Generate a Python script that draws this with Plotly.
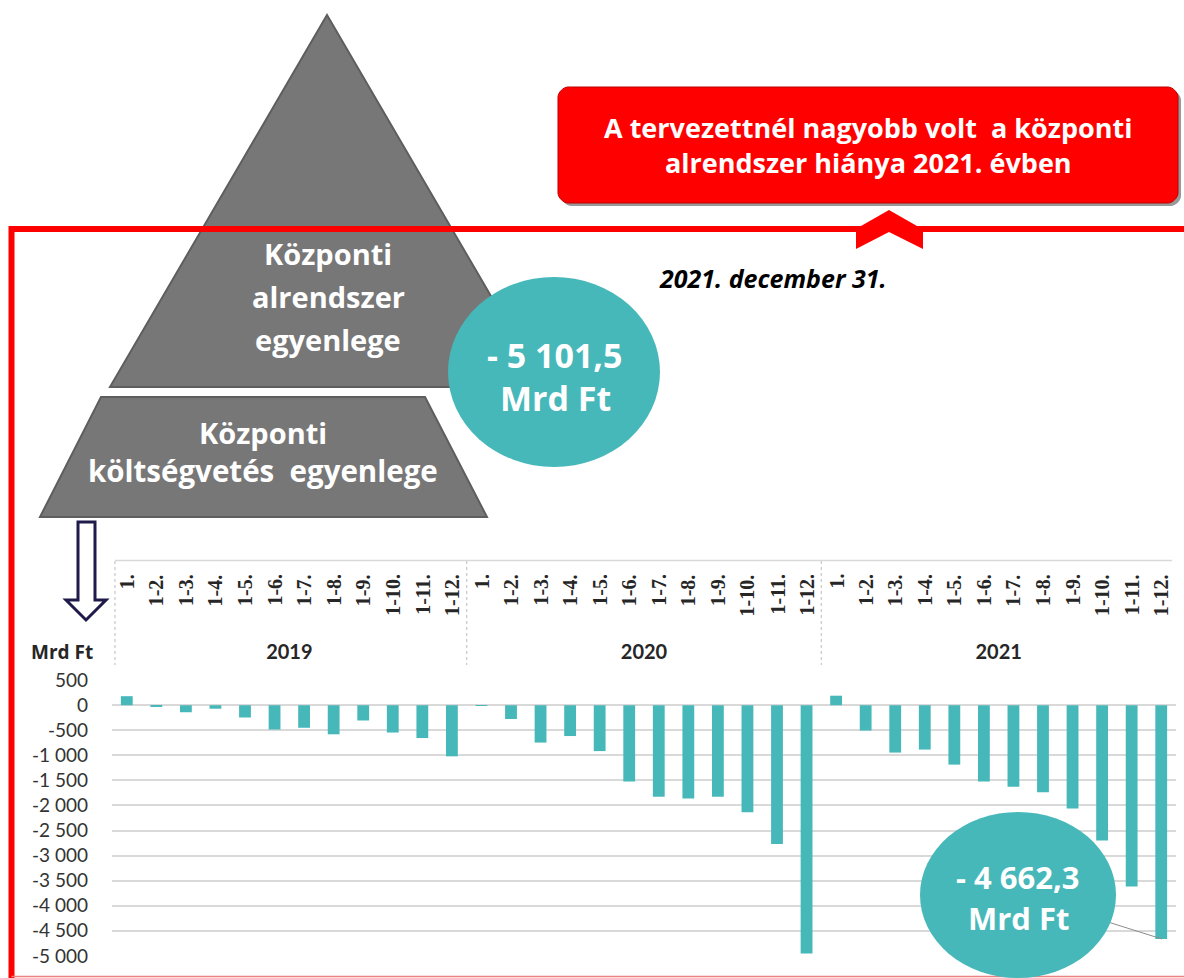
import plotly.graph_objects as go

# central subsystem balance, cumulative from January, bn HUF
years = ["2019", "2020", "2021"]
months = ["1.", "1-2.", "1-3.", "1-4.", "1-5.", "1-6.",
          "1-7.", "1-8.", "1-9.", "1-10.", "1-11.", "1-12."]
balance_2019 = [180, -20, -140, -70, -245, -485, -450, -580, -305, -545, -655, -1020]
balance_2020 = [-10, -275, -745, -615, -915, -1520, -1825, -1860, -1825, -2135, -2770, -4955]
balance_2021 = [190, -505, -945, -885, -1185, -1520, -1625, -1735, -2060, -2700, -3615, -4662.3]
ytick_vals = list(range(500, -5001, -500))
ytick_text = ["500", "0", "-500", "-1 000", "-1 500", "-2 000", "-2 500",
              "-3 000", "-3 500", "-4 000", "-4 500", "-5 000"]

values = balance_2019 + balance_2020 + balance_2021
labels = months * 3
xpos = list(range(len(values)))

TEAL = "#47B8BA"
GREY = "#777777"
RED = "#FF0000"
SANS = "Open Sans"

# plot area in pixels
L, R, T, B = 112, 1176, 680, 956


def px(x):
    return (x - L) / (R - L)


def py(y):
    return (B - y) / (B - T)


def poly(points):
    return "M " + " L ".join(f"{px(x):.5f},{py(y):.5f}" for x, y in points) + " Z"


def rounded_box(x0, y0, x1, y1, r):
    k = 0.45 * r
    pts = [
        ("M", x0 + r, y0), ("L", x1 - r, y0),
        ("C", [(x1 - r + k, y0), (x1, y0 + r - k), (x1, y0 + r)]),
        ("L", x1, y1 - r),
        ("C", [(x1, y1 - r + k), (x1 - r + k, y1), (x1 - r, y1)]),
        ("L", x0 + r, y1),
        ("C", [(x0 + r - k, y1), (x0, y1 - r + k), (x0, y1 - r)]),
        ("L", x0, y0 + r),
        ("C", [(x0, y0 + r - k), (x0 + r - k, y0), (x0 + r, y0)]),
    ]
    out = []
    for cmd, *rest in pts:
        if cmd == "C":
            out.append("C " + " ".join(f"{px(a):.5f},{py(b):.5f}" for a, b in rest[0]))
        else:
            out.append(f"{cmd} {px(rest[0]):.5f},{py(rest[1]):.5f}")
    return " ".join(out) + " Z"


fig = go.Figure()
fig.add_trace(go.Bar(x=xpos, y=values, width=0.4, marker_color=TEAL,
                     marker_line_width=0, hoverinfo="y"))

shapes = []


def add_shape(**kw):
    kw.setdefault("xref", "paper")
    kw.setdefault("yref", "paper")
    kw.setdefault("layer", "above")
    shapes.append(kw)


# pyramid
add_shape(type="path", path=poly([(327, 15), (544, 387), (110, 387)]),
          fillcolor=GREY, line=dict(color="#5E5E5E", width=2))
add_shape(type="path", path=poly([(101, 397), (425, 397), (487, 517), (40, 517)]),
          fillcolor=GREY, line=dict(color="#5E5E5E", width=2))
add_shape(type="circle", x0=px(448), x1=px(660), y0=py(467), y1=py(277),
          fillcolor=TEAL, line_width=0)

# red banner
add_shape(type="path", path=rounded_box(561, 90, 1181, 206, 10),
          fillcolor="#555555", line_width=0, opacity=0.6)
add_shape(type="path", path=rounded_box(558, 87, 1178, 203, 10),
          fillcolor=RED, line=dict(color="#C00000", width=1))

# red frame with chevron
add_shape(type="line", x0=px(11.5), x1=px(11.5), y0=py(980), y1=py(226),
          line=dict(color=RED, width=6))
add_shape(type="line", x0=px(9), x1=px(1190), y0=py(229), y1=py(229),
          line=dict(color=RED, width=6))
add_shape(type="line", x0=px(11.5), x1=px(1190), y0=py(976.5), y1=py(976.5),
          line=dict(color="#F08080", width=1.5))
add_shape(type="path",
          path=poly([(889, 210), (917, 226), (923, 226), (923, 249), (889, 232),
                     (856, 249), (856, 226), (861, 226)]),
          fillcolor=RED, line_width=0)

# hollow arrow
add_shape(type="path",
          path=poly([(78, 522), (95, 522), (95, 600), (106, 600), (86, 620),
                     (66, 600), (78, 600)]),
          fillcolor="white", line=dict(color="#1F1A4A", width=3))

# category axis frame
add_shape(type="line", x0=px(115), x1=px(1172), y0=py(560.5), y1=py(560.5),
          line=dict(color="#D9D9D9", width=1.5))
for xd in [-0.4, 11.5, 23.5]:
    add_shape(type="line", xref="x", x0=xd, x1=xd, y0=py(561), y1=py(665),
              line=dict(color="#C8C8C8", width=1.2, dash="dot"))

# callout
add_shape(type="line", x0=px(1108), x1=px(1162), y0=py(922), y1=py(939),
          line=dict(color="#8C8C8C", width=1))
add_shape(type="circle", x0=px(920), x1=px(1116), y0=py(978), y1=py(812),
          fillcolor=TEAL, line_width=0)

annotations = []


def add_text(text, x, y, size, color="white", family=SANS, bold=True,
             xanchor="center", italic=False):
    t = f"<b>{text}</b>" if bold else text
    if italic:
        t = f"<i>{t}</i>"
    annotations.append(dict(text=t, x=px(x), y=py(y), xref="paper", yref="paper",
                            showarrow=False, xanchor=xanchor, yanchor="middle",
                            font=dict(family=family, size=size, color=color)))


add_text("Központi", 328, 253, 29)
add_text("alrendszer", 328, 297, 29)
add_text("egyenlege", 328, 340, 29)
add_text("Központi", 263, 432, 29)
add_text("költségvetés  egyenlege", 263, 470, 29.5)
add_text("- 5 101,5", 555, 355, 34)
add_text("Mrd Ft", 555, 398, 34)
add_text("A tervezettnél nagyobb volt  a központi<br>alrendszer hiánya 2021. évben",
         868, 145, 27)
add_text("2021. december 31.", 657, 278, 25, color="black", xanchor="left", italic=True)
add_text("- 4 662,3", 1018, 877, 31)
add_text("Mrd Ft", 1018, 918, 31)
add_text("Mrd Ft", 62, 652, 19, color="#262626")

# rotated month labels
for xi, lab in zip(xpos, labels):
    annotations.append(dict(text=f"<b>{lab}</b>", x=xi, y=py(572), xref="x", yref="paper",
                            showarrow=False, textangle=-90, xanchor="center", yanchor="top",
                            font=dict(family="Liberation Serif", size=20, color="#262626")))

fig.update_layout(
    width=1184, height=978,
    margin=dict(l=L, r=1184 - R, t=T, b=978 - B),
    paper_bgcolor="white", plot_bgcolor="white",
    showlegend=False,
    shapes=shapes,
    annotations=annotations,
    xaxis=dict(range=[-0.5, 35.5], side="top", tickvals=[5.5, 17.5, 29.5],
               ticktext=[f"<b>{y}</b>" for y in years], ticks="",
               ticklabelstandoff=16, showgrid=False, zeroline=False, showline=False,
               tickfont=dict(family="Lato", size=20, color="#262626")),
    yaxis=dict(range=[-5003, 503], tickvals=ytick_vals, ticktext=ytick_text,
               showgrid=True, gridcolor="#D9D9D9", gridwidth=1.5, zeroline=False,
               ticks="", ticklabelstandoff=23,
               tickfont=dict(family="Lato", size=19, color="#333333")),
    bargap=0.6,
)

fig.write_html("out.html", config={"displayModeBar": False},
               post_script="document.body.style.margin = '0';")
